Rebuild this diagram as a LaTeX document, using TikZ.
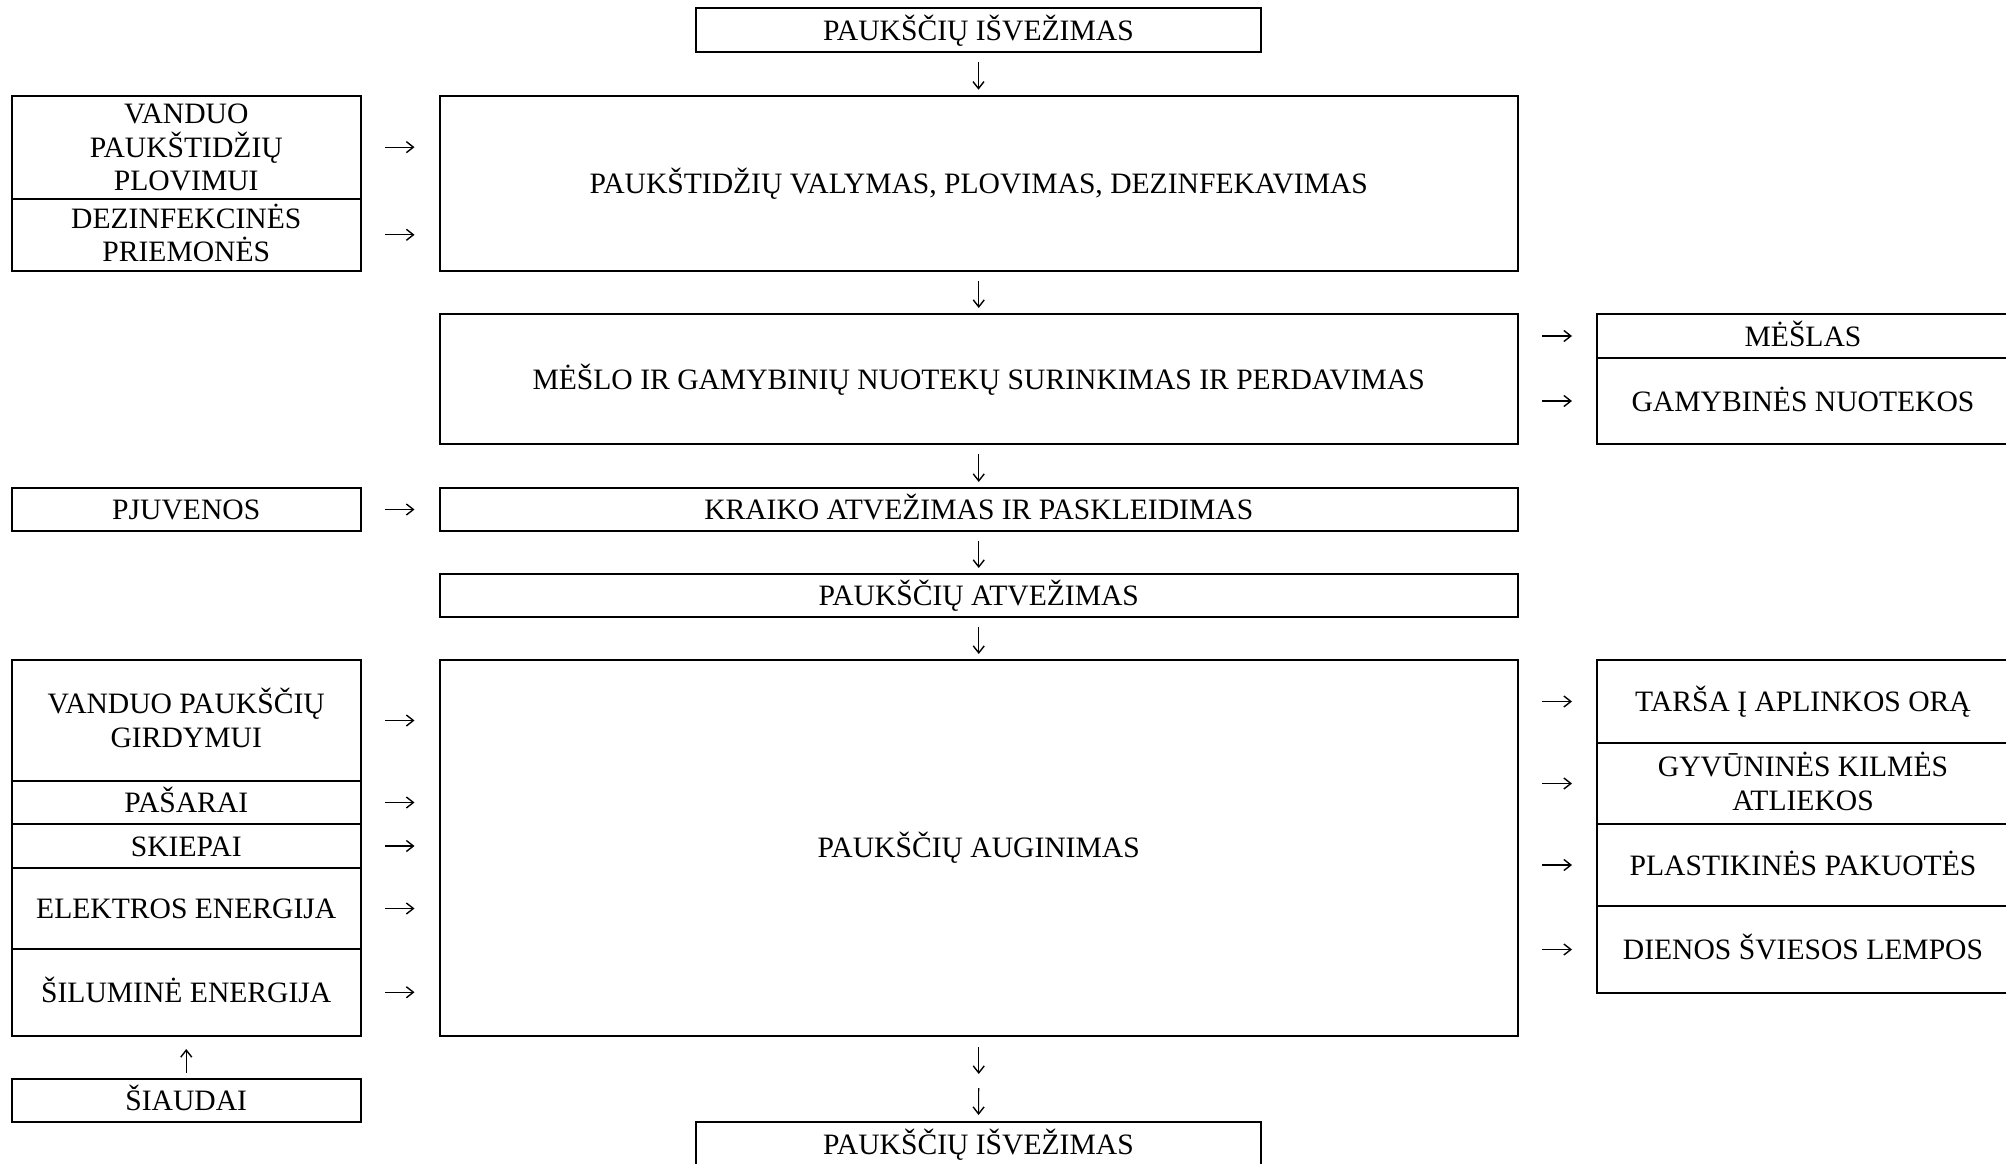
\documentclass[tikz,border=0pt]{standalone}
\usepackage{fontspec}
\setmainfont{Liberation Serif}
\usetikzlibrary{arrows.meta}
\begin{document}
\begin{tikzpicture}[x=1pt,y=-1pt,
  box/.style={draw,line width=2pt,outer sep=0pt,inner sep=0pt,align=center,
    font=\fontsize{29.6}{33.4}\selectfont,text height=30pt,text depth=10pt},
  two/.style={text height=60pt,text depth=6.6pt},
  three/.style={text height=93pt,text depth=6.2pt},
  arr/.style={line width=1.1pt,-{Straight Barb[length=7pt,width=11pt,line width=1.4pt]}},
  harr/.style={arr,shorten <=24pt,shorten >=25pt},
  varr/.style={arr,shorten <=10pt,shorten >=6pt}]
\useasboundingbox (0,0) rectangle (2006,1164);
% helper: box from (x1,y1) to (x2,y2)
\def\bx#1[#2]#3#4#5#6#7{\node[box,#2,minimum width=#5-#3,minimum height=#6-#4] (#1) at ({(#3+#5)/2},{(#4+#6)/2}) {#7};}
% top
\bx{isv1}[]{696}{8.5}{1261}{52}{PAUKŠČIŲ IŠVEŽIMAS}
% cleaning
\bx{vand}[three]{11.5}{95.7}{361}{198.6}{VANDUO\\PAUKŠTIDŽIŲ\\PLOVIMUI}
\bx{dez}[two]{11.5}{198.6}{361}{271}{DEZINFEKCINĖS\\PRIEMONĖS}
\bx{val}[]{439.5}{95.7}{1518}{271}{PAUKŠTIDŽIŲ VALYMAS, PLOVIMAS, DEZINFEKAVIMAS}
% manure
\bx{mes}[]{439.5}{314}{1518}{444}{MĖŠLO IR GAMYBINIŲ NUOTEKŲ SURINKIMAS IR PERDAVIMAS}
\bx{mesl}[]{1597}{314}{2009}{358}{MĖŠLAS}
\bx{nuot}[]{1597}{358}{2009}{444}{GAMYBINĖS NUOTEKOS}
% litter
\bx{pjuv}[]{11.5}{488}{361}{531}{PJUVENOS}
\bx{kraik}[]{439.5}{488}{1518}{531}{KRAIKO ATVEŽIMAS IR PASKLEIDIMAS}
\bx{atv}[]{439.5}{574}{1518}{617}{PAUKŠČIŲ ATVEŽIMAS}
% raising
\bx{aug}[]{439.5}{660}{1518}{1035.5}{PAUKŠČIŲ AUGINIMAS}
\bx{gird}[two]{11.5}{660}{361}{781}{VANDUO PAUKŠČIŲ\\GIRDYMUI}
\bx{pas}[]{11.5}{781}{361}{824}{PAŠARAI}
\bx{skie}[]{11.5}{824}{361}{868}{SKIEPAI}
\bx{elek}[]{11.5}{868}{361}{949}{ELEKTROS ENERGIJA}
\bx{silu}[]{11.5}{949}{361}{1035.5}{ŠILUMINĖ ENERGIJA}
\bx{tars}[]{1597}{660}{2009}{743}{TARŠA Į APLINKOS ORĄ}
\bx{gyv}[two]{1597}{743}{2009}{824}{GYVŪNINĖS KILMĖS\\ATLIEKOS}
\bx{plast}[]{1597}{824}{2009}{906}{PLASTIKINĖS PAKUOTĖS}
\bx{lemp}[]{1597}{906}{2009}{993}{DIENOS ŠVIESOS LEMPOS}
\bx{siau}[]{11.5}{1079}{361}{1122}{ŠIAUDAI}
\bx{isv2}[]{696}{1122}{1261}{1166}{PAUKŠČIŲ IŠVEŽIMAS}
\coordinate (mid) at (978.75,1081);
% vertical arrows
\draw[varr] (isv1) -- (val.north -| isv1);
\draw[varr] (val) -- (mes);
\draw[varr] (mes) -- (kraik);
\draw[varr] (kraik) -- (atv);
\draw[varr] (atv) -- (aug);
\draw[arr,shorten <=11.5pt,shorten >=7pt] (aug.south) -- (mid);
\draw[arr,shorten <=7pt,shorten >=7pt] (mid) -- (isv2.north);
\draw[arr,shorten <=6pt,shorten >=13.5pt] (siau.north) -- (silu.south);
% left arrows
\foreach \n in {vand,dez,pjuv,gird,pas,skie,elek,silu}
  \draw[harr] (\n.east) -- (\n.east -| val.west);
% right arrows
\draw[harr] (mesl.west -| mes.east) -- (mesl.west);
\draw[harr] (nuot.west -| mes.east) -- (nuot.west);
\foreach \n in {tars,gyv,plast,lemp}
  \draw[harr] (\n.west -| aug.east) -- (\n.west);
\end{tikzpicture}
\end{document}
